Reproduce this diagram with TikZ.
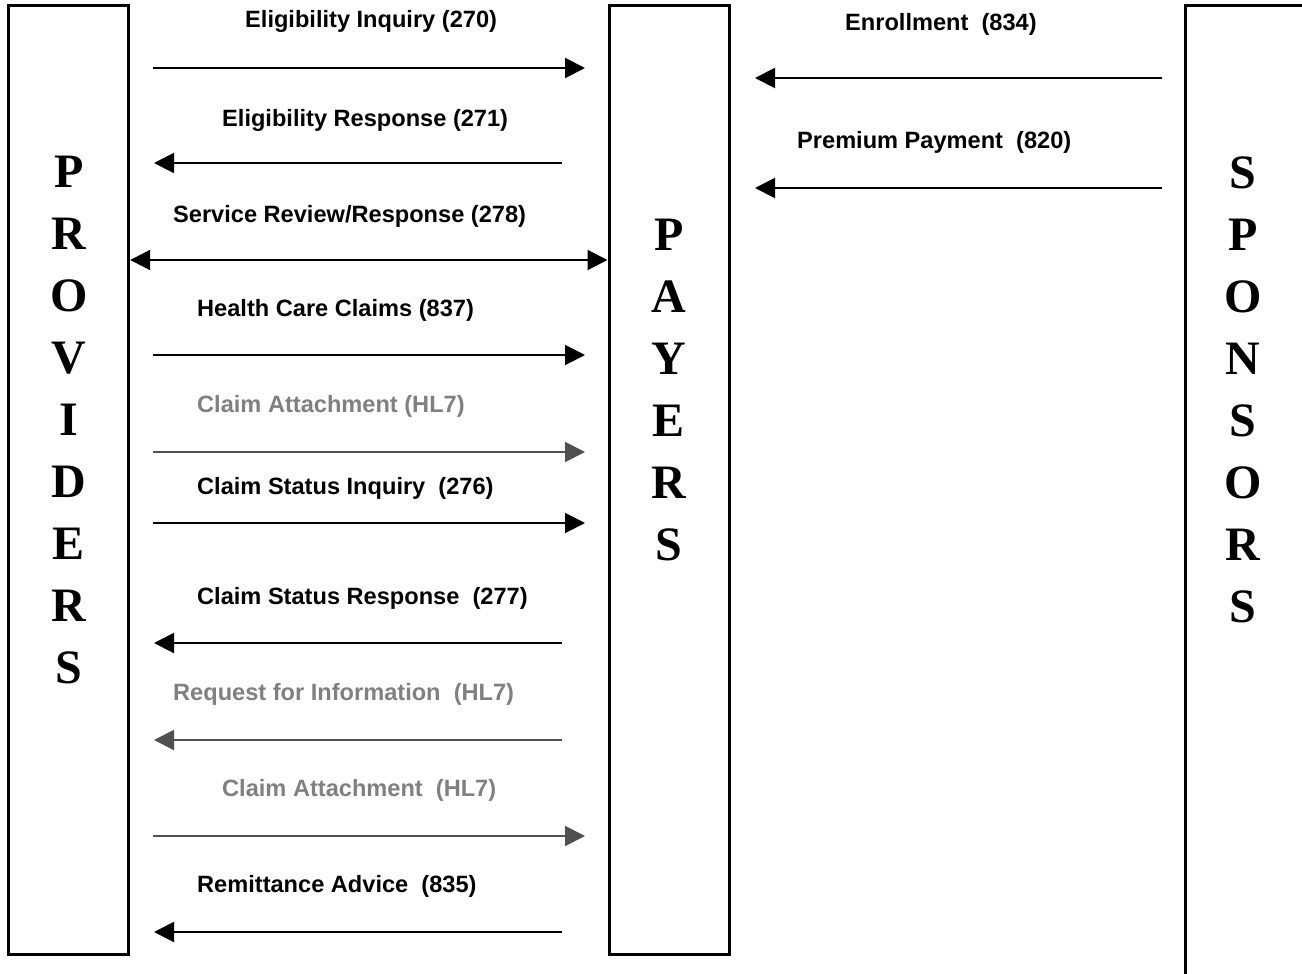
\documentclass[tikz,border=0pt]{standalone}
\usepackage{fontspec}
\setmainfont{Liberation Sans}
\newfontfamily\partyfont{Liberation Serif}
\usetikzlibrary{arrows.meta}
\definecolor{hlgrey}{RGB}{128,128,128}
\definecolor{hlarrow}{RGB}{80,80,80}
\tikzset{
    entity/.style={draw=black, line width=3pt, minimum width=120pt, inner sep=0pt},
    letters/.style={align=center, font=\fontsize{48}{62}\selectfont\partyfont\bfseries},
    msg/.style={anchor=base west, inner sep=0pt, font=\fontsize{23.6}{28}\selectfont\bfseries},
    msghl/.style={msg, text=hlgrey},
    f1/.style={draw=black, line width=2pt, -{Triangle[length=20pt, width=20pt]}},
    f2/.style={draw=hlarrow, line width=2pt, -{Triangle[length=20pt, width=20pt]}},
    f3/.style={draw=black, line width=2pt, {Triangle[length=20pt, width=20pt]}-{Triangle[length=20pt, width=20pt]}}
}
\begin{document}
\begin{tikzpicture}[x=1pt, y=-1pt]
\useasboundingbox (0,0) rectangle (1302,974);

% Parties (boxes)
\node[entity, minimum height=948.7pt] (PRV) at (68.7, 480.2) {};
\node[entity, minimum height=948.7pt] (PAY) at (669.0, 480.2) {};
\node[entity, minimum width=135pt, minimum height=1000pt] (SPN) at (1252.5, 505.8) {};

% Parties (names)
\node[letters] (PRVt) at (69, 420) {P\\R\\O\\V\\I\\D\\E\\R\\S};
\node[letters] (PAYt) at (669, 390) {P\\A\\Y\\E\\R\\S};
\node[letters] (SPNt) at (1243, 390) {S\\P\\O\\N\\S\\O\\R\\S};

% Providers <-> Payers: end points
\coordinate (M1a) at (153, 68);   \coordinate (M1b) at (585, 68);
\coordinate (M2a) at (562, 163);  \coordinate (M2b) at (154, 163);
\coordinate (M4a) at (153, 355);  \coordinate (M4b) at (585, 355);
\coordinate (M5a) at (153, 452);  \coordinate (M5b) at (585, 452);
\coordinate (M6a) at (153, 523);  \coordinate (M6b) at (585, 523);
\coordinate (M7a) at (562, 643);  \coordinate (M7b) at (154, 643);
\coordinate (M8a) at (562, 740);  \coordinate (M8b) at (154, 740);
\coordinate (M9a) at (153, 836);  \coordinate (M9b) at (585, 836);
\coordinate (M10a) at (562, 932); \coordinate (M10b) at (154, 932);

% Sponsors -> Payers: end points
\coordinate (S1a) at (1162, 78);  \coordinate (S1b) at (755, 78);
\coordinate (S2a) at (1162, 188); \coordinate (S2b) at (755, 188);

% Labels
\node[msg] (L1) at (245, 28) {Eligibility Inquiry (270)};
\node[msg] (L2) at (222, 126) {Eligibility Response (271)};
\node[msg] (L3) at (173, 222) {Service Review/Response (278)};
\node[msg] (L4) at (197, 316) {Health Care Claims (837)};
\node[msghl] (L5) at (197, 412) {Claim Attachment (HL7)};
\node[msg] (L6) at (197, 494) {Claim Status Inquiry~ (276)};
\node[msg] (L7) at (197, 604) {Claim Status Response~ (277)};
\node[msghl] (L8) at (173, 700) {Request for Information~ (HL7)};
\node[msghl] (L9) at (222, 796) {Claim Attachment~ (HL7)};
\node[msg] (L10) at (197, 892) {Remittance Advice~ (835)};
\node[msg] (K1) at (845, 31) {Enrollment~ (834)};
\node[msg] (K2) at (797, 148) {Premium Payment~ (820)};

% Messages
\draw[f1] (M1a) -- (M1b);
\draw[f1] (M2a) -- (M2b);
\draw[f3] (PRV.east |- 0,260) -- (PAY.west |- 0,260);
\draw[f1] (M4a) -- (M4b);
\draw[f2] (M5a) -- (M5b);
\draw[f1] (M6a) -- (M6b);
\draw[f1] (M7a) -- (M7b);
\draw[f2] (M8a) -- (M8b);
\draw[f2] (M9a) -- (M9b);
\draw[f1] (M10a) -- (M10b);
\draw[f1] (S1a) -- (S1b);
\draw[f1] (S2a) -- (S2b);

\end{tikzpicture}
\end{document}
